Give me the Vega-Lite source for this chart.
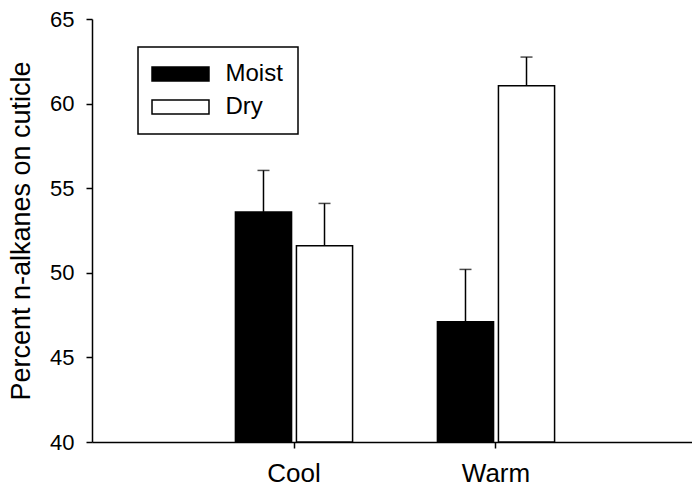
{
  "$schema": "https://vega.github.io/schema/vega-lite/v6.json",
  "autosize": "none",
  "padding": {"left": 92, "top": 19, "right": 0, "bottom": 47},
  "width": 606,
  "height": 423,
  "config": {
    "font": "Liberation Sans",
    "view": {"stroke": null},
    "axis": {"grid": false, "domainColor": "black", "tickColor": "black", "labelColor": "black", "titleColor": "black", "domainWidth": 1.5, "tickWidth": 1.5, "tickSize": 6, "titleFontWeight": "normal"},
    "axisX": {"labelFontSize": 26, "labelPadding": 12, "labelAngle": 0},
    "axisY": {"labelFontSize": 22, "labelPadding": 12, "titleFontSize": 27, "titlePadding": 14}
  },
  "data": {
    "values": [
      {"temp": "Cool", "moisture": "Moist", "value": 53.6, "upper": 56.05},
      {"temp": "Cool", "moisture": "Dry", "value": 51.6, "upper": 54.1},
      {"temp": "Warm", "moisture": "Moist", "value": 47.1, "upper": 50.2},
      {"temp": "Warm", "moisture": "Dry", "value": 61.05, "upper": 62.75}
    ]
  },
  "encoding": {
    "x": {
      "field": "temp", "type": "nominal",
      "scale": {"paddingInner": 0.42, "paddingOuter": 0.71},
      "axis": {"title": null}
    },
    "xOffset": {"field": "moisture", "type": "nominal", "sort": ["Moist", "Dry"], "scale": {"paddingInner": 0.08}}
  },
  "layer": [
    {
      "mark": {"type": "bar", "stroke": "black", "strokeWidth": 1.5},
      "encoding": {
        "y": {
          "field": "value", "type": "quantitative",
          "scale": {"domain": [40, 65], "nice": false, "zero": false},
          "axis": {"values": [40, 45, 50, 55, 60, 65], "title": "Percent n-alkanes on cuticle"}
        },
        "y2": {"datum": 40},
        "fill": {
          "field": "moisture", "type": "nominal",
          "scale": {"domain": ["Moist", "Dry"], "range": ["black", "white"]},
          "legend": {
            "title": null, "orient": "none", "legendX": 46, "legendY": 28,
            "strokeColor": "black", "padding": 15,
            "symbolType": "M-4.07,-1H4.07V1H-4.07Z", "symbolSize": 196, "symbolOffset": 15.5,
            "symbolStrokeColor": "black", "symbolStrokeWidth": 1.5,
            "labelFontSize": 24, "labelOffset": 33, "rowPadding": 9, "labelColor": "black",
            "encode": {"legend": {"update": {"strokeWidth": {"value": 1.5}}}}
          }
        }
      }
    },
    {
      "mark": {"type": "rule", "stroke": "black", "strokeWidth": 1.5},
      "encoding": {
        "y": {"field": "value", "type": "quantitative"},
        "y2": {"field": "upper"}
      }
    },
    {
      "mark": {"type": "tick", "color": "black", "size": 12, "thickness": 1.5},
      "encoding": {
        "y": {"field": "upper", "type": "quantitative"}
      }
    }
  ]
}
